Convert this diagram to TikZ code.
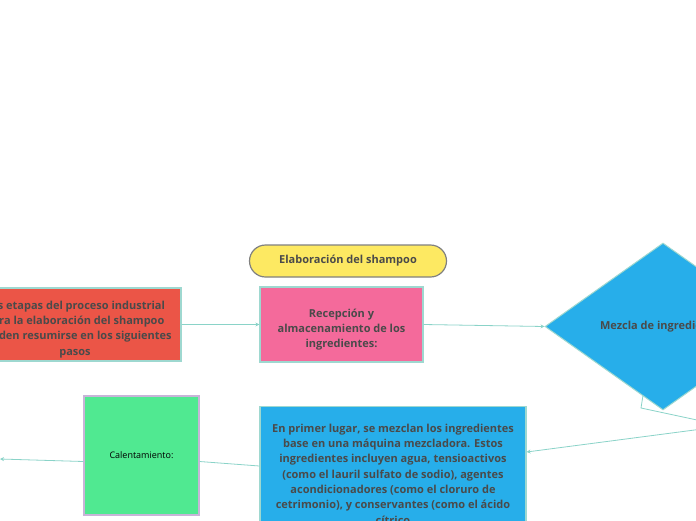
\documentclass[tikz,border=0pt]{standalone}
\usepackage{fontspec}
\setmainfont{Open Sans}
\usetikzlibrary{shapes.geometric,arrows.meta,calc}
\definecolor{tema}{HTML}{8AD3C8}
\definecolor{borde}{HTML}{9ED8D0}
\definecolor{gristxt}{HTML}{4A4A4A}
\definecolor{amarillo}{HTML}{FDE962}
\definecolor{rojo}{HTML}{EB5547}
\definecolor{rosa}{HTML}{F46A9B}
\definecolor{azul}{HTML}{27AEEA}
\definecolor{verde}{HTML}{50E991}
\definecolor{lila}{HTML}{C8B4D8}
\begin{document}
\begin{tikzpicture}[x=1pt,y=-1pt,every node/.style={font=\fontsize{11}{15.3}\selectfont\bfseries,text=gristxt,align=center},caja/.style={rectangle,draw=borde,line width=1.2pt,inner sep=0pt},enlace/.style={draw=tema,line width=0.8pt},flecha/.style={enlace,-{Stealth[length=4pt,width=4pt]}}
]
\useasboundingbox (0,0) rectangle (696,520);
\clip (0,0) rectangle (696,520);
\node[fill=amarillo,draw=gray,line width=1.2pt,rounded corners=16pt,minimum width=197,minimum height=32] (titulo) at (348,261) {Elaboración del shampoo};
\node[caja,fill=rojo,minimum width=212,minimum height=73,text height=64pt] (etapas) at (75,324.5) {Las etapas del proceso industrial\\para la elaboración del shampoo\\pueden resumirse en los siguientes\\pasos};
\node[caja,fill=rosa,minimum width=163,minimum height=75,text height=49pt] (recepcion) at (341.5,324.5) {Recepción y\\almacenamiento de los\\ingredientes:};
\node[diamond,aspect=1.41,fill=azul,draw=borde,line width=1pt,minimum width=236,minimum height=167,inner sep=0pt] (mezcla) at (663,326.5) {Mezcla de ingredientes};
\node[caja,fill=azul,anchor=north,minimum width=266,minimum height=135] (mezclado) at (393,406) {En primer lugar, se mezclan los ingredientes\\base en una máquina mezcladora. Estos\\ingredientes incluyen agua, tensioactivos\\(como el lauril sulfato de sodio), agentes\\acondicionadores (como el cloruro de\\cetrimonio), y conservantes (como el ácido\\cítrico};
\node[caja,draw=lila,fill=verde,minimum width=115,minimum height=119,font=\fontsize{9}{11}\selectfont,text=black] (calor) at (141.5,455.5) {Calentamiento:};
%\node (siguiente) at (730,426) {};
\coordinate (codo) at (641,408);
\coordinate (fuera) at (725,426);
\coordinate (izq) at (0,459);
\draw[flecha] (etapas) -- (recepcion);
\draw[flecha] (recepcion.east) -- (mezcla.west);
\draw[enlace] ($(mezcla.west)!0.83!(mezcla.south)$) -- (codo) -- (fuera);
\draw[flecha] (fuera) -- ($(mezclado.north east)+(0,46)$);
\draw[enlace] ($(mezclado.north west)+(0,60)$) -- ($(calor.east)+(0,6)$);
\draw[flecha] ($(calor.west)+(0,6)$) -- (izq);
\end{tikzpicture}
\end{document}
